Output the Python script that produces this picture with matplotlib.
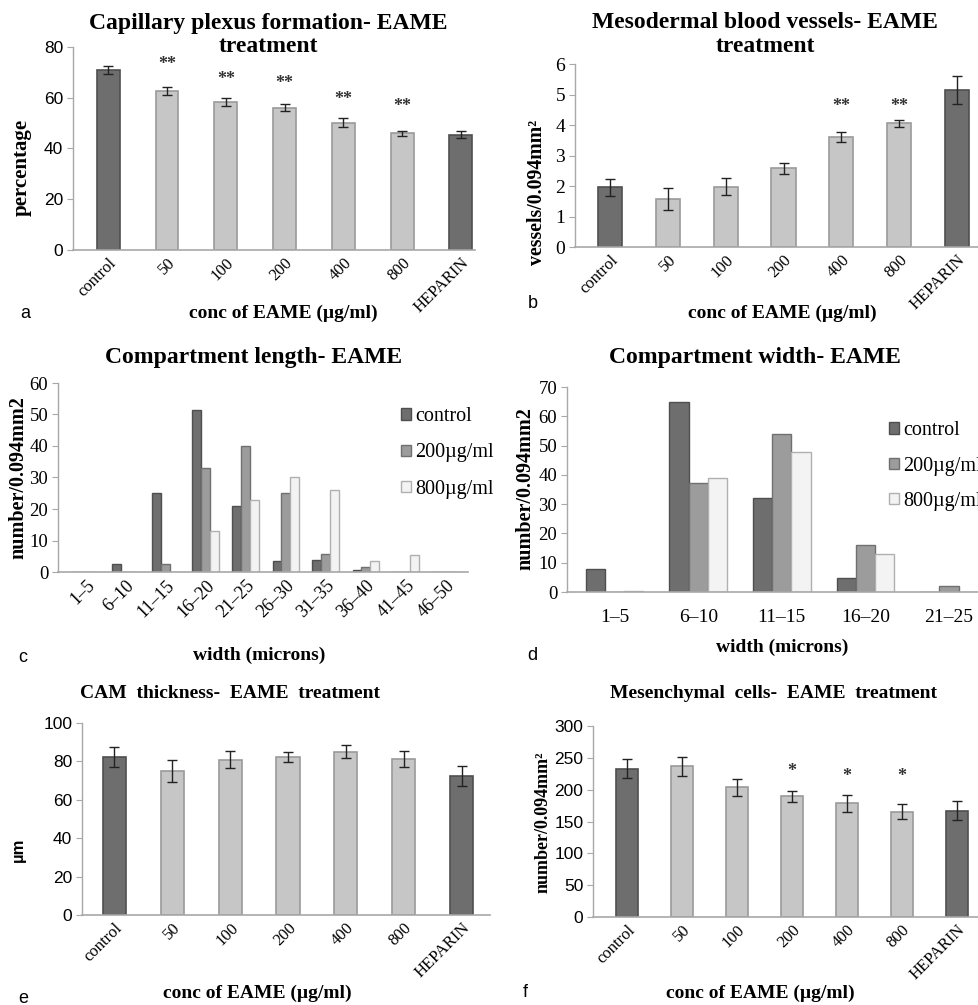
import matplotlib
matplotlib.use("Agg")
import matplotlib.pyplot as plt
import numpy as np

W, H = 979, 1005
SERIF = "Liberation Serif"
SANS = "Liberation Sans"

# ---------------- data ----------------
conc_cats = ["control", "50", "100", "200", "400", "800", "HEPARIN"]

cap_vals = [70.8, 62.7, 58.4, 56.1, 50.2, 46.0, 45.4]
cap_err = [1.6, 1.5, 1.5, 1.3, 1.8, 1.0, 1.4]
cap_stars = ["", "**", "**", "**", "**", "**", ""]
cap_star_y = [0, 73.2, 67.3, 65.6, 59.3, 56.7, 0]

ves_vals = [1.96, 1.57, 1.98, 2.58, 3.60, 4.06, 5.15]
ves_err = [0.28, 0.37, 0.27, 0.19, 0.17, 0.11, 0.47]
ves_stars = ["", "", "", "", "**", "**", ""]
ves_star_y = [0, 0, 0, 0, 4.62, 4.62, 0]

cam_vals = [82.3, 75.0, 80.9, 82.3, 85.0, 81.2, 72.2]
cam_err = [5.0, 5.5, 4.5, 2.6, 3.3, 4.3, 5.2]

mes_vals = [232.8, 237.0, 203.5, 189.8, 178.3, 165.2, 166.8]
mes_err = [15, 15, 13, 8.4, 13.6, 11.8, 15]
mes_stars = ["", "", "", "*", "*", "*", ""]
mes_star_y = [0, 0, 0, 228, 220, 220, 0]

len_cats = ["1–5", "6–10", "11–15", "16–20", "21–25", "26–30", "31–35",
            "36–40", "41–45", "46–50"]
len_control = [0, 2.5, 25, 51.5, 20.8, 3.5, 3.7, 0.5, 0, 0]
len_200 = [0, 0, 2.5, 33, 40, 25, 5.6, 1.5, 0, 0]
len_800 = [0, 0, 0, 13, 23, 30, 26, 3.5, 5.5, 0]

wid_cats = ["1–5", "6–10", "11–15", "16–20", "21–25"]
wid_control = [8, 65, 32, 4.8, 0]
wid_200 = [0, 37.2, 54, 15.9, 1.9]
wid_800 = [0.4, 38.9, 47.8, 13.1, 0]

series_names = ["control", "200µg/ml", "800µg/ml"]

# ---------------- style ----------------
DARK = "#6e6e6e"; DARK_E = "#4f4f4f"
LIGHT = "#c6c6c6"; LIGHT_E = "#9a9a9a"
MID = "#9c9c9c"; MID_E = "#707070"
WHITE = "#f3f3f3"; WHITE_E = "#b0b0b0"
AXC = "#a8a8a8"

fig = plt.figure(figsize=(W / 100, H / 100), dpi=100)


def rect(l, r, top, bot):
    return [l / W, 1 - bot / H, (r - l) / W, (bot - top) / H]


def fx(x):
    return x / W


def fy(y):
    return 1 - y / H


def style_axes(ax, tickfont, ticksize):
    for s in ["top", "right"]:
        ax.spines[s].set_visible(False)
    ax.spines["left"].set_color(AXC)
    ax.spines["bottom"].set_color(AXC)
    ax.spines["left"].set_linewidth(1.0)
    ax.spines["bottom"].set_linewidth(1.2)
    ax.tick_params(axis="y", length=4, color=AXC, labelsize=ticksize, pad=3)
    ax.tick_params(axis="x", length=0)
    for lab in ax.get_yticklabels():
        lab.set_family(tickfont)
    ax.set_facecolor("none")


def conc_panel(rc, vals, err, ylim, yticks, tickfont, xlim, width,
               stars=None, star_y=None, star_size=13):
    ax = fig.add_axes(rc)
    x = np.arange(len(conc_cats))
    colors = [DARK] + [LIGHT] * 5 + [DARK]
    edges = [DARK_E] + [LIGHT_E] * 5 + [DARK_E]
    ax.bar(x, vals, width, color=colors, edgecolor=edges, linewidth=1.2, zorder=2)
    ax.errorbar(x, vals, yerr=err, fmt="none", ecolor="#222222", elinewidth=1.0,
                capsize=3.5, capthick=1.0, zorder=3)
    if stars is not None:
        for xi, s, sy in zip(x, stars, star_y):
            if s:
                ax.text(xi, sy, s, ha="center", va="center", fontsize=star_size,
                        family=SERIF, fontweight="bold", color="#333333")
    ax.set_xlim(*xlim)
    ax.set_ylim(*ylim)
    ax.set_yticks(yticks)
    ax.set_xticks(x)
    ax.set_xticklabels(conc_cats, rotation=45, ha="right", rotation_mode="anchor",
                       family=SERIF, fontsize=12)
    style_axes(ax, tickfont, 12.5)
    return ax


def group_panel(rc, cats, c, m, w, ylim, yticks, xlim, width, rot):
    ax = fig.add_axes(rc)
    x = np.arange(len(cats))
    ax.bar(x - width, c, width, color=DARK, edgecolor=DARK_E, linewidth=1.0,
           label=series_names[0], zorder=2)
    ax.bar(x, m, width, color=MID, edgecolor=MID_E, linewidth=1.0,
           label=series_names[1], zorder=2)
    ax.bar(x + width, w, width, color=WHITE, edgecolor=WHITE_E, linewidth=1.0,
           label=series_names[2], zorder=2)
    ax.set_xlim(*xlim)
    ax.set_ylim(*ylim)
    ax.set_yticks(yticks)
    ax.set_xticks(x)
    if rot:
        ax.set_xticklabels(cats, rotation=45, ha="right", rotation_mode="anchor",
                           family=SERIF, fontsize=13)
    else:
        ax.set_xticklabels(cats, family=SERIF, fontsize=14)
        ax.tick_params(axis="x", pad=12)
    style_axes(ax, SERIF, 13.5)
    return ax


TITLE = 17
XL = 14

# ---- a ----
ax_a = conc_panel(rect(73, 475, 47, 250), cap_vals, cap_err, (0, 80),
                  [0, 20, 40, 60, 80], SANS, (-0.6, 6.24), 0.39,
                  cap_stars, cap_star_y)
fig.text(fx(268), fy(23), "Capillary plexus formation- EAME", ha="center", va="center",
         family=SERIF, fontweight="bold", fontsize=TITLE)
fig.text(fx(268), fy(47), "treatment", ha="center", va="center",
         family=SERIF, fontweight="bold", fontsize=TITLE)
fig.text(fx(22), fy(167), "percentage", rotation=90, ha="center", va="center",
         family=SERIF, fontweight="bold", fontsize=15)
fig.text(fx(283), fy(313), "conc of EAME (µg/ml)", ha="center", va="center",
         family=SERIF, fontweight="bold", fontsize=XL)
fig.text(fx(25), fy(313), "a", ha="center", va="center", family=SANS, fontsize=13)

# ---- b ----
ax_b = conc_panel(rect(575, 980, 64, 247), ves_vals, ves_err, (0, 6),
                  [0, 1, 2, 3, 4, 5, 6], SERIF, (-0.61, 6.4), 0.42,
                  ves_stars, ves_star_y)
ax_b.tick_params(axis="y", labelsize=14)
fig.text(fx(765), fy(22), "Mesodermal blood vessels- EAME", ha="center", va="center",
         family=SERIF, fontweight="bold", fontsize=TITLE)
fig.text(fx(765), fy(47), "treatment", ha="center", va="center",
         family=SERIF, fontweight="bold", fontsize=TITLE)
fig.text(fx(537), fy(192), "vessels/0.094mm²", rotation=90, ha="center", va="center",
         family=SERIF, fontweight="bold", fontsize=14.3)
fig.text(fx(782), fy(313), "conc of EAME (µg/ml)", ha="center", va="center",
         family=SERIF, fontweight="bold", fontsize=XL)
fig.text(fx(533), fy(303), "b", ha="center", va="center", family=SANS, fontsize=13)

# ---- c ----
ax_c = group_panel(rect(58, 468, 383, 572), len_cats, len_control, len_200, len_800,
                   (0, 60), [0, 10, 20, 30, 40, 50, 60], (-0.7, 9.55), 0.225, True)
ax_c.legend(loc="center left", bbox_to_anchor=(fx(383), fy(453)),
            bbox_transform=fig.transFigure, frameon=False, handlelength=0.5,
            handleheight=0.5, handletextpad=0.2, labelspacing=0.85,
            prop={"family": SERIF, "size": 14.5})
fig.text(fx(254), fy(358), "Compartment length- EAME", ha="center", va="center",
         family=SERIF, fontweight="bold", fontsize=TITLE)
fig.text(fx(18), fy(478), "number/0.094mm2", rotation=90, ha="center", va="center",
         family=SERIF, fontweight="bold", fontsize=14.5)
fig.text(fx(259), fy(655), "width (microns)", ha="center", va="center",
         family=SERIF, fontweight="bold", fontsize=XL)
fig.text(fx(23), fy(658), "c", ha="center", va="center", family=SANS, fontsize=13)

# ---- d ----
ax_d = group_panel(rect(567, 984, 387, 592), wid_cats, wid_control, wid_200, wid_800,
                   (0, 70), [0, 10, 20, 30, 40, 50, 60, 70], (-0.57, 4.42), 0.23, False)
ax_d.legend(loc="center left", bbox_to_anchor=(fx(871), fy(466)),
            bbox_transform=fig.transFigure, frameon=False, handlelength=0.5,
            handleheight=0.5, handletextpad=0.2, labelspacing=0.8,
            prop={"family": SERIF, "size": 14.5})
fig.text(fx(755), fy(358), "Compartment width- EAME", ha="center", va="center",
         family=SERIF, fontweight="bold", fontsize=TITLE)
fig.text(fx(525), fy(489), "number/0.094mm2", rotation=90, ha="center", va="center",
         family=SERIF, fontweight="bold", fontsize=14.5)
fig.text(fx(782), fy(647), "width (microns)", ha="center", va="center",
         family=SERIF, fontweight="bold", fontsize=XL)
fig.text(fx(532), fy(655), "d", ha="center", va="center", family=SANS, fontsize=13)

# ---- e ----
ax_e = conc_panel(rect(82, 490, 723, 915), cam_vals, cam_err, (0, 100),
                  [0, 20, 40, 60, 80, 100], SANS, (-0.56, 6.49), 0.4)
fig.text(fx(230), fy(693), "CAM  thickness-  EAME  treatment", ha="center", va="center",
         family=SERIF, fontweight="bold", fontsize=14)
fig.text(fx(18), fy(850), "µm", rotation=90, ha="center", va="center",
         family=SANS, fontweight="bold", fontsize=12)
fig.text(fx(257), fy(993), "conc of EAME (µg/ml)", ha="center", va="center",
         family=SERIF, fontweight="bold", fontsize=XL)
fig.text(fx(23), fy(998), "e", ha="center", va="center", family=SANS, fontsize=13)

# ---- f ----
ax_f = conc_panel(rect(593, 978, 726, 917), mes_vals, mes_err, (0, 300),
                  [0, 50, 100, 150, 200, 250, 300], SANS, (-0.62, 6.39), 0.4,
                  mes_stars, mes_star_y)
fig.text(fx(774), fy(694), "Mesenchymal  cells-  EAME  treatment", ha="center", va="center",
         family=SERIF, fontweight="bold", fontsize=14)
fig.text(fx(543), fy(822), "number/0.094mm²", rotation=90, ha="center", va="center",
         family=SERIF, fontweight="bold", fontsize=13)
fig.text(fx(760), fy(993), "conc of EAME (µg/ml)", ha="center", va="center",
         family=SERIF, fontweight="bold", fontsize=XL)
fig.text(fx(525), fy(992), "f", ha="center", va="center", family=SANS, fontsize=13)

fig.savefig("out.png", dpi=100)
